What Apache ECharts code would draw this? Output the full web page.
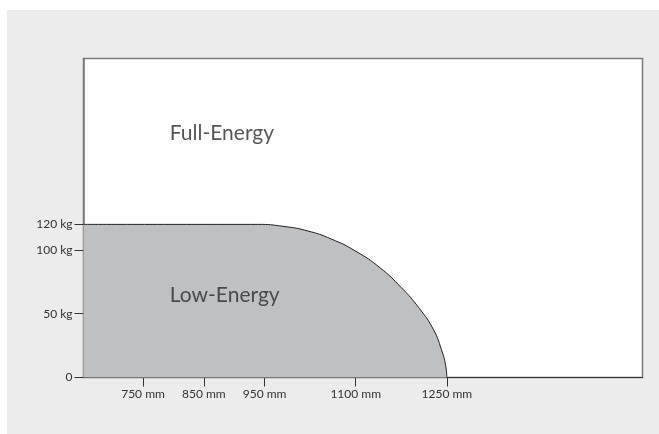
<!DOCTYPE html>
<html>
<head>
<meta charset="utf-8">
<script src="https://cdn.jsdelivr.net/npm/echarts@6/dist/echarts.min.js"></script>
<style>
  html, body { margin: 0; padding: 0; background: #ffffff; }
  #main { position: absolute; left: 7px; top: 10px; width: 652px; height: 424px; background: #ebeceb; }
</style>
</head>
<body>
<div id="main"></div>
<script>
// boundary of the low-energy zone (mm -> kg)
const reachMm = [652, 940, 980, 1020, 1060, 1100, 1140, 1175, 1205, 1228, 1241, 1248, 1250];
const loadKg  = [120, 120, 118.5, 115, 108.5, 99, 86, 70.5, 54, 37.5, 22, 9.5, 0];

// tick labels
const xTicks = [750, 850, 950, 1100, 1250];
const xTickLabels = ['750 mm', '850 mm', '950 mm', '1100 mm', '1250 mm'];
const yTicks = [0, 50, 100, 120];
const yTickLabels = ['0', '50 kg', '100 kg', '120 kg'];

// zone names, placed in data units
const zoneNames = ['Full-Energy', 'Low-Energy'];
const zoneAt = [[794, 191.5], [794, 64.5]];

const font = 'Lato, "Open Sans", sans-serif';

const chart = echarts.init(document.getElementById('main'));
const option = {
  animation: false,
  backgroundColor: '#ebeceb',
  grid: {
    left: 76.5,
    right: 16.5,
    top: 48.5,
    bottom: 56.5,
    show: true,
    backgroundColor: '#ffffff',
    borderColor: '#7a7a7a',
    borderWidth: 1.5
  },
  xAxis: {
    type: 'value',
    min: 652,
    max: 1572,
    splitLine: { show: false },
    axisLine: { show: true, lineStyle: { color: '#333', width: 1.2 } },
    axisTick: {
      show: true, inside: false, length: 9,
      customValues: xTicks,
      lineStyle: { color: '#333', width: 1 }
    },
    axisLabel: {
      show: true, margin: 11,
      customValues: xTicks,
      formatter: v => xTickLabels[xTicks.indexOf(v)],
      color: '#333', fontSize: 12, fontFamily: font
    }
  },
  yAxis: {
    type: 'value',
    min: 0,
    max: 250,
    splitLine: { show: false },
    axisLine: { show: true, lineStyle: { color: '#7a7a7a', width: 1.5 } },
    axisTick: {
      show: true, inside: false, length: 9,
      customValues: yTicks,
      lineStyle: { color: '#333', width: 1 }
    },
    axisLabel: {
      show: true, margin: 11,
      customValues: yTicks,
      formatter: v => yTickLabels[yTicks.indexOf(v)],
      color: '#333', fontSize: 12, fontFamily: font
    }
  },
  series: [
    {
      type: 'line',
      data: reachMm.map((m, i) => [m, loadKg[i]]),
      smooth: 0.5,
      showSymbol: false,
      lineStyle: { color: '#1e1e1e', width: 1 },
      areaStyle: { color: '#bfc0c2', opacity: 1 },
      z: 2
    },
    {
      type: 'scatter',
      data: zoneAt.map((p, i) => ({ value: p, name: zoneNames[i] })),
      symbolSize: 0,
      silent: true,
      label: {
        show: true,
        position: 'right',
        distance: 0,
        formatter: p => p.name,
        color: '#2a2a2a',
        fontSize: 21,
        fontFamily: font
      },
      z: 3
    }
  ]
};
chart.setOption(option);
window.addEventListener('resize', () => chart.resize());
</script>
</body>
</html>
